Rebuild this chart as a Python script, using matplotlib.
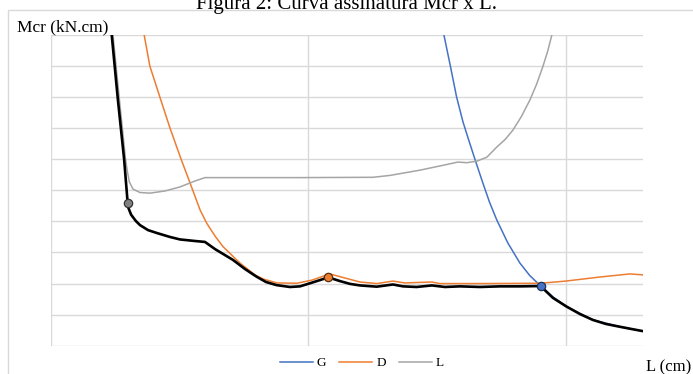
import matplotlib
matplotlib.use("Agg")
import matplotlib.pyplot as plt
from matplotlib.lines import Line2D
from matplotlib.patches import Rectangle

plt.rcParams['font.family'] = ['Liberation Serif', 'DejaVu Serif']

# ---- data (arbitrary units: x 0..230, y 0..10) ----
L_x = [22.05, 24.18, 26.7, 29.04, 29.81, 30.51, 31.95, 34.67, 38.55, 44.37, 50.19, 56.02,
       59.9, 65.7, 96.8, 125.1, 131.7, 143.4, 153.1, 158.1, 161.6, 165.5, 169.4, 173.3,
       176.5, 179.5, 182.8, 186.1, 188.7, 191.1, 193.0, 194.6, 197.7]
L_y = [11.45, 10.0, 7.91, 6.01, 5.59, 5.28, 5.04, 4.93, 4.91, 4.98, 5.11, 5.30,
       5.41, 5.41, 5.41, 5.42, 5.48, 5.65, 5.82, 5.91, 5.89, 5.94, 6.07, 6.40,
       6.64, 6.94, 7.38, 7.91, 8.42, 8.98, 9.48, 10.0, 10.97]

G_x = [151.5, 152.7, 155.2, 157.6, 160.1, 162.4, 164.7, 167.8, 170.4, 173.2, 177.5,
       182.2, 186.0, 190.3, 195.2, 200.3, 210.5, 221.0, 229.9]
G_y = [10.8, 10.0, 9.0, 8.01, 7.2, 6.6, 6.01, 5.24, 4.62, 4.05, 3.31,
       2.66, 2.26, 1.92, 1.56, 1.26, 0.83, 0.61, 0.47]

D_x = [35.4, 36.3, 38.5, 42.4, 46.3, 50.6, 54.1, 58.0, 60.6, 63.8, 66.9, 73.5, 79.3,
       82.4, 87.8, 95.6, 101.4, 108.4, 114.2, 120.1, 126.7, 132.9, 137.5, 148.0, 151.1,
       166.7, 190.3, 200.0, 213.2, 224.9, 229.9]
D_y = [10.8, 10.0, 9.0, 8.0, 7.01, 6.01, 5.24, 4.37, 3.94, 3.53, 3.19, 2.66, 2.28,
       2.15, 2.02, 2.01, 2.11, 2.31, 2.18, 2.05, 2.0, 2.08, 2.02, 2.05, 2.0,
       2.0, 2.01, 2.08, 2.21, 2.31, 2.28]

Mcr_x = [21.9, 23.7, 26.1, 28.5, 29.9, 30.2, 31.2, 32.0, 33.1, 34.7, 37.8, 41.1, 46.3,
         50.2, 56.0, 59.9, 63.8, 70.8, 75.4, 79.96, 83.6, 87.7, 92.9, 96.8, 100.7, 104.5,
         107.8, 112.3, 116.2, 120.1, 126.6, 132.9, 136.8, 142.1, 148.0, 153.1, 158.9,
         166.7, 174.4, 182.2, 190.2, 195.0, 200.3, 205.5, 210.5, 215.6, 221.0, 226.0,
         229.9]
Mcr_y = [11.45, 10.0, 7.91, 6.01, 4.58, 4.43, 4.22, 4.13, 4.01, 3.88, 3.72, 3.63, 3.50,
         3.42, 3.37, 3.34, 3.11, 2.76, 2.47, 2.22, 2.05, 1.95, 1.89, 1.91, 2.01, 2.11,
         2.20, 2.08, 1.99, 1.94, 1.90, 1.97, 1.91, 1.89, 1.94, 1.89, 1.91,
         1.89, 1.91, 1.91, 1.92, 1.54, 1.26, 1.02, 0.83, 0.70, 0.61, 0.53,
         0.47]

# transition points
pts_x = [29.9, 107.8, 190.2]
pts_y = [4.58, 2.20, 1.92]

title = "Figura 2: Curva assinatura Mcr x L."
ylabel = "Mcr (kN.cm)"
xlabel = "L (cm)"
series_names = ["G", "D", "L"]

c_G, c_D, c_L = "#4472C4", "#ED7D31", "#A5A5A5"
grid_c = "#D9D9D9"

W, H = 693, 374
fig = plt.figure(figsize=(W / 100, H / 100), dpi=100)

# chart area border (partially outside the figure, as in the reference)
fig.patches.append(Rectangle((8.3 / W, -0.05), 1.2, 1 - 10.3 / H + 0.05,
                             transform=fig.transFigure, fill=False,
                             edgecolor=grid_c, lw=1.0))

ax = fig.add_axes([50.7 / W, 1 - 345.7 / H, (643 - 50.7) / W, (345.7 - 35) / H])
ax.set_xlim(0, 230)
ax.set_ylim(0, 10)
ax.set_xticks([0, 100, 200])
ax.set_yticks(range(0, 11))
ax.grid(True, color=grid_c, lw=1.0)
ax.tick_params(length=0, labelbottom=False, labelleft=False)
for s in ax.spines.values():
    s.set_visible(False)
ax.set_axisbelow(True)

ax.plot(G_x, G_y, color=c_G, lw=1.1, zorder=3)
ax.plot(D_x, D_y, color=c_D, lw=1.1, zorder=3)
ax.plot(L_x, L_y, color=c_L, lw=1.1, zorder=3)
ax.plot(Mcr_x, Mcr_y, color="black", lw=1.9, zorder=4, solid_capstyle='round',
        solid_joinstyle='round')

ax.plot(pts_x[0], pts_y[0], 'o', ms=6, mfc="#808080", mec="#333333", mew=0.9, zorder=5)
ax.plot(pts_x[1], pts_y[1], 'o', ms=6, mfc=c_D, mec="#5a3010", mew=0.9, zorder=5)
ax.plot(pts_x[2], pts_y[2], 'o', ms=6, mfc=c_G, mec="#1f3050", mew=0.9, zorder=5)

fig.text(347 / W, 1 - 9.5 / H, title, ha='center', va='baseline', fontsize=15)
fig.text(17 / W, 1 - 31.5 / H, ylabel, ha='left', va='baseline', fontsize=12.5)
fig.text(646 / W, 1 - 371 / H, xlabel, ha='left', va='baseline', fontsize=12)

handles = [Line2D([], [], color=c_G, lw=1.1),
           Line2D([], [], color=c_D, lw=1.1),
           Line2D([], [], color=c_L, lw=1.1)]
fig.legend(handles, series_names, loc='center', bbox_to_anchor=(362 / W, 1 - 363 / H),
           ncol=3, frameon=False, fontsize=9.5, handlelength=2.5, handletextpad=0.3,
           columnspacing=1.0, borderpad=0, borderaxespad=0)

fig.savefig("out.png", dpi=100)
